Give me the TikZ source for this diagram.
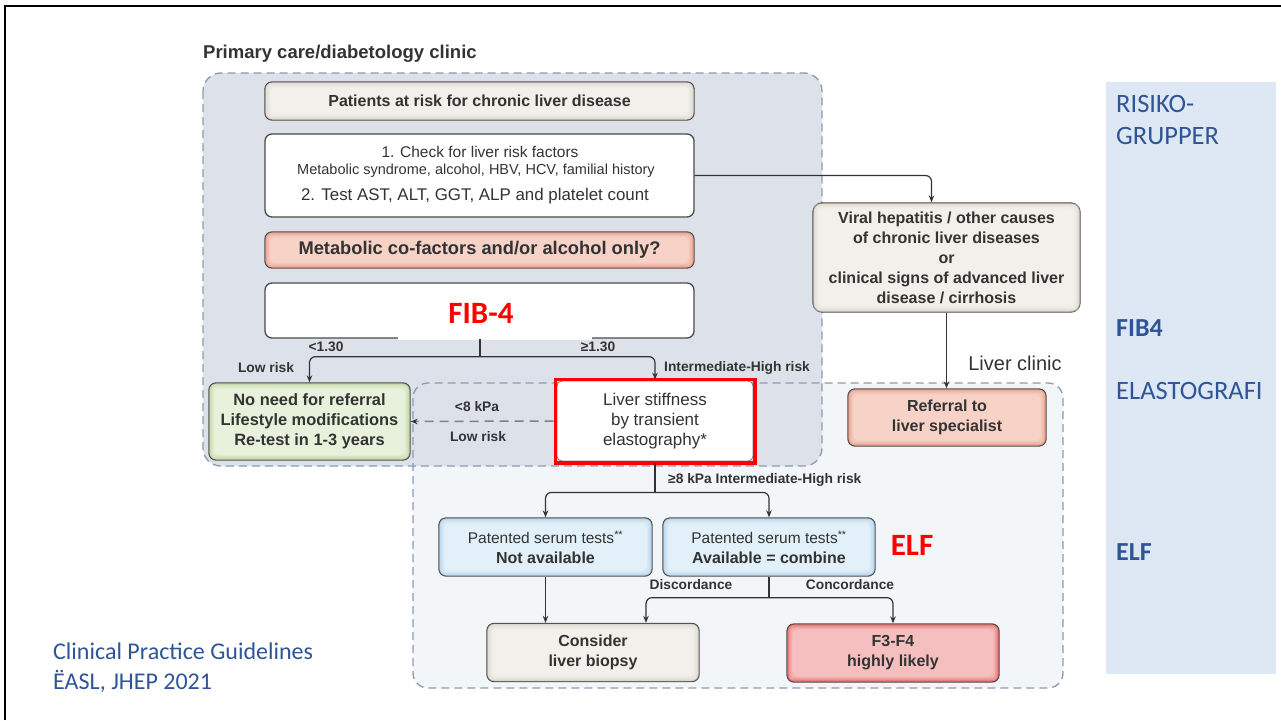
\documentclass[tikz,border=0pt]{standalone}
\usepackage{fontspec}
\setmainfont{Liberation Sans}
\newfontfamily\calib{Carlito}
\usetikzlibrary{arrows.meta}
\definecolor{txt}{HTML}{333333}
\definecolor{pcfill}{HTML}{DDE2EA}
\definecolor{lcfill}{HTML}{F3F6F9}
\definecolor{dline}{HTML}{8D9AB0}
\definecolor{bline}{HTML}{4A4A4A}
\definecolor{aline}{HTML}{333333}
\definecolor{beige}{HTML}{F2F0EB}
\definecolor{beigeg}{HTML}{D8D3C8}
\definecolor{salmon}{HTML}{F7D2C7}
\definecolor{salmong}{HTML}{E6907B}
\definecolor{greenf}{HTML}{E8F1DC}
\definecolor{greeng}{HTML}{B5CF95}
\definecolor{bluef}{HTML}{E2F0F9}
\definecolor{blueg}{HTML}{A8CCE5}
\definecolor{redf}{HTML}{F6BFBF}
\definecolor{redg}{HTML}{E05656}
\definecolor{panel}{HTML}{DDE8F4}
\definecolor{rpblue}{HTML}{2F5597}
\definecolor{hired}{HTML}{FF0000}
\tikzset{
  base/.style={draw=bline, line width=1.3pt, rounded corners=7pt, align=center, text=txt, inner sep=0pt},
  bb/.style={font=\bfseries\fontsize{16}{20}\selectfont},
  nb/.style={font=\fontsize{16}{20}\selectfont},
  lab/.style={font=\bfseries\fontsize{13.8}{15}\selectfont, text=txt, inner sep=0pt},
  arr/.style={draw=aline, line width=1.2pt, -{Stealth[length=7pt,width=5.5pt]}},
  conn/.style={draw=aline, line width=1.2pt},
  region/.style={draw=dline, line width=1.3pt, dash pattern=on 8pt off 5pt},
  rp/.style={font=\calib\fontsize{26.5}{30}\selectfont, text=rpblue, inner sep=0pt, anchor=west},
  rpb/.style={font=\calib\bfseries\fontsize{26}{30}\selectfont, text=rpblue, inner sep=0pt, anchor=west},
  cit/.style={font=\calib\fontsize{24}{28}\selectfont, text=rpblue, inner sep=0pt, anchor=west},
  redlab/.style={font=\calib\bfseries\fontsize{31}{31}\selectfont, text=hired, inner sep=0pt},
  intxt/.style={text=txt, inner sep=0pt, anchor=base},
}
% inner glow: insets given in user units (y axis points down)
\newcommand\glow[2]{%
  \foreach \ins/\op in {1.8/0.6,3.4/0.35,5.0/0.15}{%
    \draw[#2, line width=1.8pt, opacity=\op, rounded corners=6pt]
      ([shift={(\ins,-\ins)}]#1.south west) rectangle ([shift={(-\ins,\ins)}]#1.north east);
  }%
}
\begin{document}
\begin{tikzpicture}[x=1pt,y=-1pt]
\useasboundingbox (0,0) rectangle (1281,720);
\fill[white] (0,0) rectangle (1281,720);
\draw[black, line width=2.2pt] (5,720) -- (5,6) -- (1281,6);

% right panel
\fill[panel] (1106,82) rectangle (1276,674);
\node[rp] (rp1) at (1116,104) {RISIKO-};
\node[rp] (rp2) at (1116,136) {GRUPPER};
\node[rpb] (rp3) at (1116,328) {FIB4};
\node[rp] (rp4) at (1116,391) {ELASTOGRAFI};
\node[rpb] (rp5) at (1116,552) {ELF};

% citation
\node[cit] (cit1) at (53,651) {Clinical Practice Guidelines};
\node[cit] (cit2) at (53,681) {ËASL, JHEP 2021};

% regions
\fill[lcfill, rounded corners=15pt] (413,383) rectangle (1063,688);
\fill[pcfill, rounded corners=18pt] (203,73) rectangle (822,466);
\draw[region, rounded corners=15pt] (413,383) rectangle (1063,688);
\draw[region, rounded corners=18pt] (203,73) rectangle (822,466);
\node[font=\bfseries\fontsize{18.5}{22}\selectfont, text=txt, anchor=west, inner sep=0pt] (title) at (203,54) {Primary care/diabetology clinic};
\node[font=\fontsize{20}{24}\selectfont, text=txt, inner sep=0pt] (lclin) at (1015,363) {Liver clinic};

% boxes
\node[base, bb, fill=beige, minimum width=429pt, minimum height=38pt] (pat) at (479.5,101) {Patients at risk for chronic liver disease};
\glow{pat}{beigeg}
\node[base, fill=white, minimum width=429pt, minimum height=83pt] (check) at (479.5,175.5) {};
\node[intxt, font=\fontsize{15.5}{18}\selectfont] (c1) at (480,157) {1. Check for liver risk factors};
\node[intxt, font=\fontsize{14.5}{16}\selectfont] (c2) at (476,174) {Metabolic syndrome, alcohol, HBV, HCV, familial history};
\node[intxt, font=\fontsize{16.9}{18}\selectfont] (c3) at (475,200) {2. Test AST, ALT, GGT, ALP and platelet count};
\node[base, fill=salmon, font=\bfseries\fontsize{18.3}{22}\selectfont, minimum width=429pt, minimum height=36pt] (meta) at (479.5,250) {Metabolic co-factors and/or alcohol only?};
\glow{meta}{salmong}
\node[base, fill=white, minimum width=429pt, minimum height=55pt] (fib) at (479.5,310.5) {};
\fill[white] (398,300) rectangle (592,340);
\node[redlab] (fibl) at (481,313) {FIB-4};

\node[base, bb, fill=beige, minimum width=267pt, minimum height=109pt, rounded corners=9pt] (viral) at (946.5,257.5)
  {Viral hepatitis / other causes\\of chronic liver diseases\\or\\clinical signs of advanced liver\\disease / cirrhosis};
\glow{viral}{beigeg}
\node[base, bb, fill=salmon, minimum width=198pt, minimum height=57pt] (referral) at (947,417.5) {Referral to\\liver specialist};
\glow{referral}{salmong}
\node[base, bb, font=\bfseries\fontsize{16.4}{20}\selectfont, fill=greenf, minimum width=201pt, minimum height=77pt] (noneed) at (309.5,421.5)
  {No need for referral\\Lifestyle modifications\\Re-test in 1-3 years};
\glow{noneed}{greeng}
\node[base, draw=gray, line width=0.8pt, font=\fontsize{17}{20}\selectfont, fill=white, minimum width=196pt, minimum height=80pt, rounded corners=5pt] (ls) at (655,421)
  {Liver stiffness\\by transient\\elastography*};
\draw[hired, line width=3.2pt] ([shift={(-1.5,-1)}]ls.north west) rectangle ([shift={(1.5,1.5)}]ls.south east);

\node[base, nb, font=\fontsize{15.5}{20}\selectfont, fill=bluef, minimum width=213pt, minimum height=58pt] (t1) at (545.5,547)
  {Patented serum tests\textsuperscript{**}\\\bfseries\fontsize{16}{20}\selectfont Not available};
\glow{t1}{blueg}
\node[base, nb, font=\fontsize{15.5}{20}\selectfont, fill=bluef, minimum width=212pt, minimum height=58pt] (t2) at (769,547)
  {Patented serum tests\textsuperscript{**}\\\bfseries\fontsize{16}{20}\selectfont Available = combine};
\glow{t2}{blueg}
\node[redlab] (elfl) at (912,545) {ELF};
\node[base, bb, fill=beige, minimum width=212pt, minimum height=58pt] (consider) at (593,652.5) {Consider\\liver biopsy};
\glow{consider}{beigeg}
\node[base, bb, fill=redf, minimum width=212pt, minimum height=58pt] (f3) at (893,653) {F3-F4\\highly likely};
\glow{f3}{redg}

% connectors
\draw[conn, line width=2pt] (fib.south) -- ++(0,18) coordinate (fj);
\draw[arr, rounded corners=6pt] (fj) -| (noneed.north);
\draw[arr, rounded corners=6pt] (fj) -| ([shift={(0,-1)}]ls.north);
\draw[arr, rounded corners=6pt] (check.east) -| ([xshift=-15pt]viral.north);
\draw[arr, line width=1.8pt] (viral.south) -- (viral.south |- referral.north);
\draw[draw=gray, line width=1.5pt, dash pattern=on 9pt off 6pt, -{Stealth[length=7pt,width=5.5pt,color=aline]}] ([xshift=-3pt]ls.west) -- (noneed.east);
\draw[conn, line width=2pt] ([shift={(0,1.5)}]ls.south) -- ++(0,29.5) coordinate (lj);
\draw[arr, rounded corners=6pt] (lj) -| (t1.north);
\draw[arr, rounded corners=6pt] (lj) -| (t2.north);
\draw[arr, line width=1.6pt] (t1.south) -- (t1.south |- consider.north);
\draw[conn] (t2.south) -- ++(0,21) coordinate (tj);
\draw[arr, rounded corners=6pt] (tj) -| ([xshift=53pt]consider.north);
\draw[arr, rounded corners=6pt] (tj) -| (f3.north);

% labels
\node[lab] (l1) at (326,347) {<1.30};
\node[lab] (l2) at (598,347) {≥1.30};
\node[lab] (l3) at (266,368) {Low risk};
\node[lab, anchor=west] (l4) at (664,368) {Intermediate-High risk};
\node[lab] (l5) at (477,407) {<8 kPa};
\node[lab] (l6) at (478,437) {Low risk};
\node[lab, anchor=west] (l7) at (668,480) {≥8 kPa Intermediate-High risk};
\node[lab] (l8) at (691,585) {Discordance};
\node[lab] (l9) at (850,585) {Concordance};
\end{tikzpicture}
\end{document}
